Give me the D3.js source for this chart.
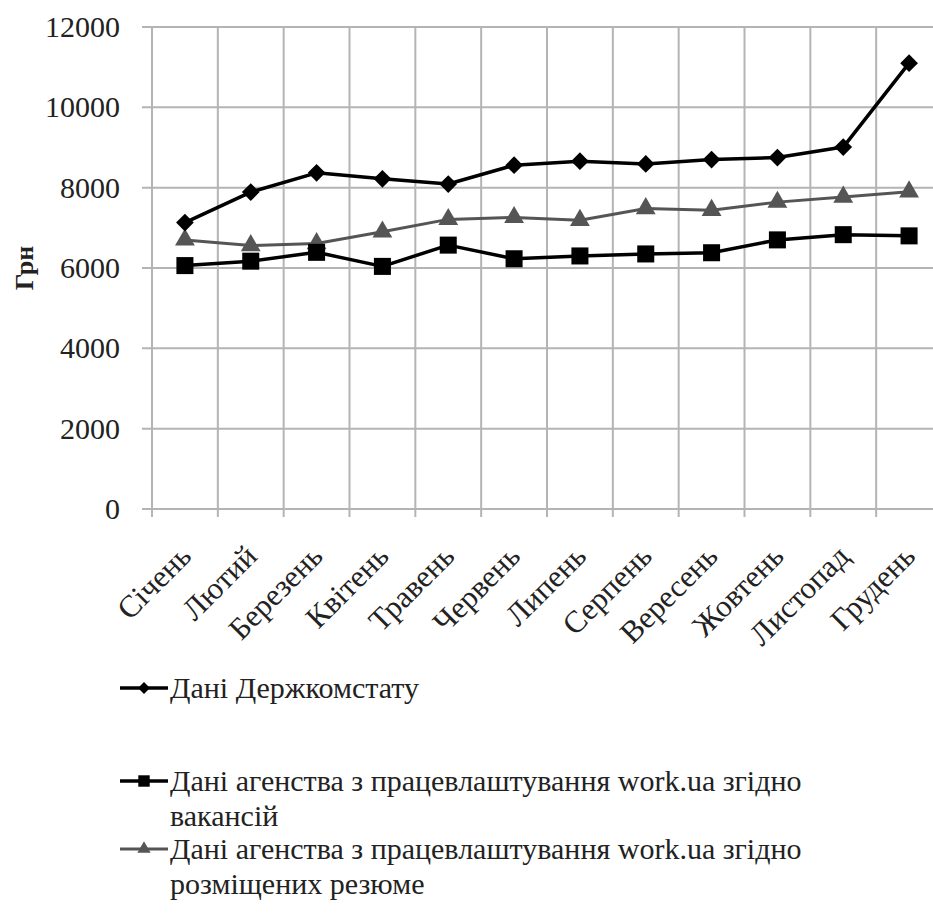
<html><head><meta charset="utf-8"><script src="https://cdn.jsdelivr.net/npm/d3@7"></script></head>
<body style="margin:0">
<svg id="chart" width="933" height="920"></svg>
<script>
var months = ["Січень", "Лютий", "Березень", "Квітень", "Травень", "Червень",
  "Липень", "Серпень", "Вересень", "Жовтень", "Листопад", "Грудень"];
var derzhkomstat = [7130, 7890, 8370, 8220, 8090, 8560, 8660, 8590, 8700, 8750, 9010, 11100];
var vacancies = [6060, 6170, 6390, 6040, 6570, 6230, 6300, 6350, 6380, 6700, 6830, 6800];
var resumes = [6700, 6560, 6610, 6900, 7210, 7260, 7190, 7480, 7440, 7640, 7770, 7900];
var yTicks = [0, 2000, 4000, 6000, 8000, 10000, 12000];
var seriesNames = ["Дані Держкомстату",
  ["Дані агенства з працевлаштування work.ua згідно", "вакансій"],
  ["Дані агенства з працевлаштування work.ua згідно", "розміщених резюме"]];

const svg = d3.select("#chart");
const gridColor = "#b4b4b4";
const textColor = "#222";
const fontName = "'Times New Roman'";

// Scales.
const x = d3.scaleBand().domain(months).range([152, 942]).padding(0);
const y = d3.scaleLinear().domain([0, 12000]).range([509, 27]);

// Horizontal grid + outward ticks.
svg.append("g")
  .selectAll("line")
  .data(yTicks)
  .enter()
  .append("line")
    .attr("x1", 142)
    .attr("x2", 933)
    .attr("y1", d => y(d))
    .attr("y2", d => y(d))
    .attr("stroke", gridColor)
    .attr("stroke-width", 2);

// Vertical grid at category boundaries.
svg.append("g")
  .selectAll("line")
  .data(months)
  .enter()
  .append("line")
    .attr("x1", d => x(d))
    .attr("x2", d => x(d))
    .attr("y1", y(12000))
    .attr("y2", y(0) + 8)
    .attr("stroke", gridColor)
    .attr("stroke-width", 2);

// Y tick labels.
svg.append("g")
  .selectAll("text")
  .data(yTicks)
  .enter()
  .append("text")
    .attr("x", 120)
    .attr("y", d => y(d) + 10)
    .attr("text-anchor", "end")
    .attr("font-size", 30)
    .style("font-family", fontName)
    .attr("fill", textColor)
    .text(d => d);

// Y axis title.
svg.append("text")
  .attr("transform", "translate(33," + y(6000) + ") rotate(-90)")
  .attr("text-anchor", "middle")
  .attr("font-size", 26)
  .attr("font-weight", "bold")
  .style("font-family", fontName)
  .attr("fill", textColor)
  .text("Грн");

// Category labels.
svg.append("g")
  .selectAll("text")
  .data(months)
  .enter()
  .append("text")
    .attr("transform", d => "translate(" + (x(d) + x.bandwidth() / 2 + 8) + ",558) rotate(-45)")
    .attr("text-anchor", "end")
    .attr("font-size", 31)
    .style("font-family", fontName)
    .attr("fill", textColor)
    .text(d => d);

const cx = d => x(d) + x.bandwidth() / 2;

const lineGen = d3.line()
  .x((d, i) => cx(months[i]))
  .y(d => y(d));

const series = [
  { values: derzhkomstat, color: "#000", width: 3.5, symbol: d3.symbolDiamond2, size: 200 },
  { values: vacancies, color: "#000", width: 3.5, symbol: d3.symbolSquare, size: 290 },
  { values: resumes, color: "#555", width: 3, symbol: d3.symbolTriangle, size: 170 }
];

series.slice().reverse().forEach(function(s) {
  svg.append("path")
    .datum(s.values)
    .attr("fill", "none")
    .attr("stroke", s.color)
    .attr("stroke-width", s.width)
    .attr("stroke-linejoin", "round")
    .attr("d", lineGen);

  svg.append("g")
    .selectAll("path")
    .data(s.values)
    .enter()
    .append("path")
      .attr("transform", (d, i) => "translate(" + cx(months[i]) + "," + y(d) + ")")
      .attr("d", d3.symbol().type(s.symbol).size(s.size))
      .attr("fill", s.color);
});

// Legend.
const legendY = [688, 781, 849];
series.forEach(function(s, i) {
  const g = svg.append("g").attr("transform", "translate(0," + legendY[i] + ")");
  g.append("line")
    .attr("x1", 120).attr("x2", 168)
    .attr("stroke", s.color)
    .attr("stroke-width", s.width);
  g.append("path")
    .attr("transform", "translate(144,0)")
    .attr("d", d3.symbol().type(s.symbol).size(s.size * 0.45))
    .attr("fill", s.color);
  const lines = [].concat(seriesNames[i]);
  lines.forEach(function(t, j) {
    g.append("text")
      .attr("x", 170)
      .attr("y", 10 + j * 35)
      .attr("font-size", 30)
      .style("font-family", fontName)
      .attr("fill", textColor)
      .text(t);
  });
});
</script>
</body></html>
